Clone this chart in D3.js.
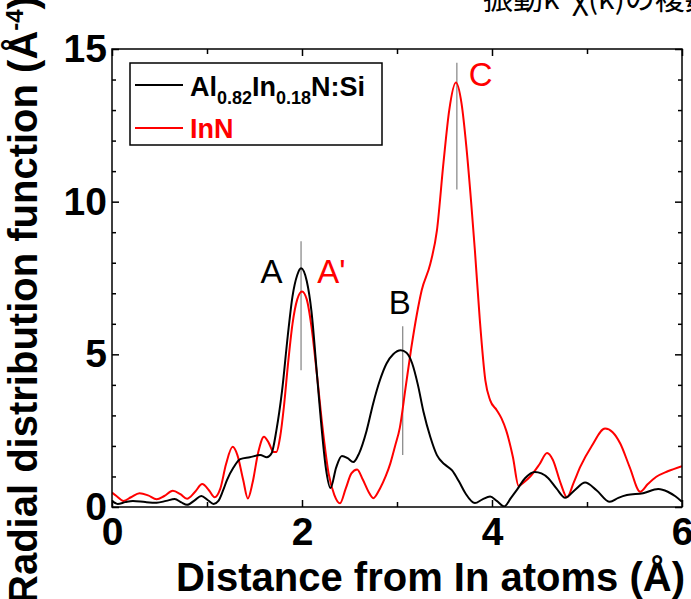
<!DOCTYPE html>
<html>
<head>
<meta charset="utf-8">
<script src="https://cdn.jsdelivr.net/npm/d3@7"></script>
<style>
body { margin: 0; background: #fff; }
svg { display: block; font-family: "Liberation Sans", Arial, sans-serif; }
</style>
</head>
<body>
<script>
// Al0.82In0.18N:Si (black)
var alinnR = [0.00, 0.06, 0.14, 0.22, 0.35, 0.47, 0.57, 0.66, 0.73, 0.79, 0.87, 0.94, 1.01, 1.07, 1.12, 1.17, 1.21, 1.28, 1.35, 1.45, 1.56, 1.63, 1.68, 1.73, 1.79, 1.85, 1.90, 1.95, 1.99, 2.05, 2.10, 2.16, 2.20, 2.25, 2.30, 2.36, 2.42, 2.48, 2.54, 2.60, 2.68, 2.75, 2.82, 2.89, 2.96, 3.04, 3.10, 3.16, 3.22, 3.28, 3.35, 3.42, 3.50, 3.58, 3.65, 3.72, 3.82, 3.90, 3.98, 4.05, 4.13, 4.20, 4.26, 4.35, 4.45, 4.52, 4.59, 4.68, 4.77, 4.87, 4.98, 5.10, 5.24, 5.33, 5.42, 5.59, 5.75, 5.85, 5.93, 6.00];
var alinnG = [0.20, 0.10, 0.16, 0.20, 0.16, 0.14, 0.20, 0.26, 0.15, 0.07, 0.22, 0.36, 0.22, 0.10, 0.20, 0.55, 0.88, 1.30, 1.57, 1.63, 1.70, 1.63, 1.76, 2.50, 3.80, 5.60, 6.90, 7.60, 7.82, 7.40, 6.40, 4.25, 2.80, 1.30, 0.62, 1.30, 1.67, 1.60, 1.47, 1.75, 2.50, 3.40, 4.15, 4.70, 5.00, 5.13, 5.05, 4.70, 4.00, 3.10, 2.30, 1.70, 1.40, 1.20, 0.85, 0.45, 0.13, 0.25, 0.34, 0.20, 0.02, 0.30, 0.55, 0.95, 1.15, 1.10, 0.95, 0.60, 0.30, 0.55, 0.80, 0.55, 0.17, 0.30, 0.39, 0.45, 0.59, 0.50, 0.35, 0.17];

// InN (red)
var innR = [0.00, 0.05, 0.12, 0.20, 0.29, 0.38, 0.47, 0.55, 0.64, 0.72, 0.79, 0.87, 0.95, 1.02, 1.08, 1.14, 1.20, 1.27, 1.32, 1.38, 1.43, 1.48, 1.54, 1.60, 1.65, 1.70, 1.73, 1.77, 1.81, 1.85, 1.90, 1.95, 2.00, 2.05, 2.10, 2.16, 2.22, 2.28, 2.34, 2.40, 2.46, 2.52, 2.58, 2.64, 2.70, 2.75, 2.82, 2.88, 2.93, 2.98, 3.03, 3.09, 3.15, 3.21, 3.26, 3.35, 3.42, 3.49, 3.55, 3.62, 3.68, 3.73, 3.78, 3.82, 3.87, 3.93, 3.98, 4.05, 4.10, 4.15, 4.22, 4.28, 4.34, 4.40, 4.50, 4.58, 4.64, 4.72, 4.79, 4.86, 4.93, 5.05, 5.19, 5.27, 5.35, 5.45, 5.56, 5.64, 5.73, 5.85, 6.00];
var innG = [0.47, 0.35, 0.20, 0.32, 0.45, 0.38, 0.25, 0.36, 0.53, 0.42, 0.27, 0.48, 0.75, 0.55, 0.32, 0.60, 1.40, 1.97, 1.70, 0.90, 0.28, 0.80, 1.80, 2.30, 2.10, 1.80, 1.80, 2.30, 3.30, 4.60, 6.00, 6.80, 7.06, 6.80, 5.90, 4.25, 2.50, 1.10, 0.40, 0.12, 0.60, 1.10, 1.23, 0.90, 0.50, 0.29, 0.60, 1.00, 1.43, 2.00, 2.60, 3.90, 5.20, 6.33, 7.10, 7.96, 9.05, 11.30, 13.00, 13.90, 13.20, 11.80, 10.00, 8.40, 6.20, 4.15, 3.50, 3.17, 2.90, 2.50, 1.64, 0.69, 0.82, 0.99, 1.40, 1.77, 1.55, 0.80, 0.32, 0.80, 1.32, 2.00, 2.57, 2.45, 2.08, 1.30, 0.50, 0.75, 0.99, 1.17, 1.34];

var xTicks = [0, 2, 4, 6];
var xMinor = [1, 3, 5];
var yTicks = [0, 5, 10, 15];
var yMinor = [1, 2, 3, 4, 6, 7, 8, 9, 11, 12, 13, 14];

// peak markers: position, line from/to, label text and place
var markR = [1.99, 3.06, 3.63];
var markLo = [4.48, 1.70, 10.4];
var markHi = [8.70, 5.92, 14.55];
var labText = ['A', "A'", 'B', 'C'];
var labR = [1.68, 2.31, 3.03, 3.88];
var labG = [7.35, 7.35, 6.32, 13.8];
var labCol = ['#000', '#ff0000', '#000', '#ff0000'];

var W = 691, H = 599;
var margin = { left: 112, top: 49, right: 9, bottom: 92 };
var width = W - margin.left - margin.right,
    height = H - margin.top - margin.bottom;

var svg = d3.select('body').append('svg').attr('width', W).attr('height', H);

// japanese text cut at the top of the page
svg.append('text')
    .attr('x', 483).attr('y', 9)
    .attr('font-family', '"Noto Sans CJK JP", sans-serif')
    .attr('font-size', 30)
    .text('振動k³χ(k)の複数');

var x = d3.scaleLinear().domain([0, 6]).range([0, width]);
var y = d3.scaleLinear().domain([0, 15]).range([height, 0]);

var g = svg.append('g').attr('transform', 'translate(' + margin.left + ',' + margin.top + ')');

g.append('clipPath').attr('id', 'clip')
    .append('rect').attr('width', width).attr('height', height);

// ticks on all 4 sides, pointing in
function ticks(sel, axis) {
    sel.call(axis);
    sel.select('.domain').remove();
    sel.selectAll('line').attr('stroke', '#000').attr('stroke-width', 1.5);
}
var fmtNone = function() { return ''; };

var xb = g.append('g').attr('transform', 'translate(0,' + height + ')');
ticks(xb, d3.axisBottom(x).tickValues(xTicks).tickSize(-7).tickPadding(10).tickFormat(d3.format('d')));
ticks(g.append('g').attr('transform', 'translate(0,' + height + ')'), d3.axisBottom(x).tickValues(xMinor).tickSize(-5).tickFormat(fmtNone));
ticks(g.append('g'), d3.axisTop(x).tickValues(xTicks).tickSize(-7).tickFormat(fmtNone));
ticks(g.append('g'), d3.axisTop(x).tickValues(xMinor).tickSize(-5).tickFormat(fmtNone));

var yl = g.append('g');
ticks(yl, d3.axisLeft(y).tickValues(yTicks).tickSize(-7).tickPadding(5).tickFormat(d3.format('d')));
ticks(g.append('g'), d3.axisLeft(y).tickValues(yMinor).tickSize(-4).tickFormat(fmtNone));
ticks(g.append('g').attr('transform', 'translate(' + width + ',0)'), d3.axisRight(y).tickValues(yTicks).tickSize(-7).tickFormat(fmtNone));
ticks(g.append('g').attr('transform', 'translate(' + width + ',0)'), d3.axisRight(y).tickValues(yMinor).tickSize(-4).tickFormat(fmtNone));

xb.selectAll('text').attr('font-size', 39).attr('font-weight', 'bold').attr('fill', '#000')
    .attr('font-family', '"Liberation Sans", Arial, sans-serif');
yl.selectAll('text').attr('font-size', 39).attr('font-weight', 'bold').attr('fill', '#000')
    .attr('font-family', '"Liberation Sans", Arial, sans-serif');

// marker lines
g.selectAll('.mark').data(markR).enter().append('line')
    .attr('x1', function(d) { return x(d); })
    .attr('x2', function(d) { return x(d); })
    .attr('y1', function(d, i) { return y(markLo[i]); })
    .attr('y2', function(d, i) { return y(markHi[i]); })
    .attr('stroke', '#8c8c8c').attr('stroke-width', 1.3);

var line = d3.line()
    .x(function(d) { return x(d[0]); })
    .y(function(d) { return y(d[1]); })
    .curve(d3.curveMonotoneX);

var plot = g.append('g').attr('clip-path', 'url(#clip)');
plot.append('path')
    .attr('d', line(d3.zip(innR, innG)))
    .attr('fill', 'none').attr('stroke', '#ff0000').attr('stroke-width', 2);
plot.append('path')
    .attr('d', line(d3.zip(alinnR, alinnG)))
    .attr('fill', 'none').attr('stroke', '#000').attr('stroke-width', 2);

// peak labels
g.selectAll('.lab').data(labText).enter().append('text')
    .attr('x', function(d, i) { return x(labR[i]); })
    .attr('y', function(d, i) { return y(labG[i]); })
    .attr('text-anchor', 'middle')
    .attr('font-size', 33)
    .attr('fill', function(d, i) { return labCol[i]; })
    .text(function(d) { return d; });

// frame
g.append('rect').attr('width', width).attr('height', height)
    .attr('fill', 'none').attr('stroke', '#000').attr('stroke-width', 1.5);

// legend
var lg = svg.append('g');
lg.append('rect').attr('x', 130).attr('y', 63).attr('width', 252).attr('height', 82)
    .attr('fill', '#fff').attr('stroke', '#000').attr('stroke-width', 1.5);
lg.append('line').attr('x1', 135).attr('x2', 183).attr('y1', 85).attr('y2', 85)
    .attr('stroke', '#000').attr('stroke-width', 2);
lg.append('line').attr('x1', 135).attr('x2', 183).attr('y1', 128).attr('y2', 128)
    .attr('stroke', '#ff0000').attr('stroke-width', 2);
var t1 = lg.append('text').attr('x', 190).attr('y', 96).attr('font-size', 27).attr('font-weight', 'bold');
t1.append('tspan').text('Al');
t1.append('tspan').attr('font-size', 18).attr('dy', 8).text('0.82');
t1.append('tspan').attr('dy', -8).text('In');
t1.append('tspan').attr('font-size', 18).attr('dy', 8).text('0.18');
t1.append('tspan').attr('dy', -8).text('N:Si');
lg.append('text').attr('x', 190).attr('y', 138).attr('font-size', 27).attr('font-weight', 'bold')
    .attr('fill', '#ff0000').text('InN');

// axis titles
svg.append('text')
    .attr('x', 176).attr('y', 591)
    .attr('font-size', 40).attr('font-weight', 'bold')
    .text('Distance from In atoms (Å)');

var yt = svg.append('text')
    .attr('transform', 'translate(37,604) rotate(-90)')
    .attr('font-size', 40).attr('font-weight', 'bold');
yt.append('tspan').text('Radial distribution function (Å');
yt.append('tspan').attr('font-size', 24).attr('dy', -14).text('-4');
yt.append('tspan').attr('dy', 14).text(')');
</script>
</body>
</html>
